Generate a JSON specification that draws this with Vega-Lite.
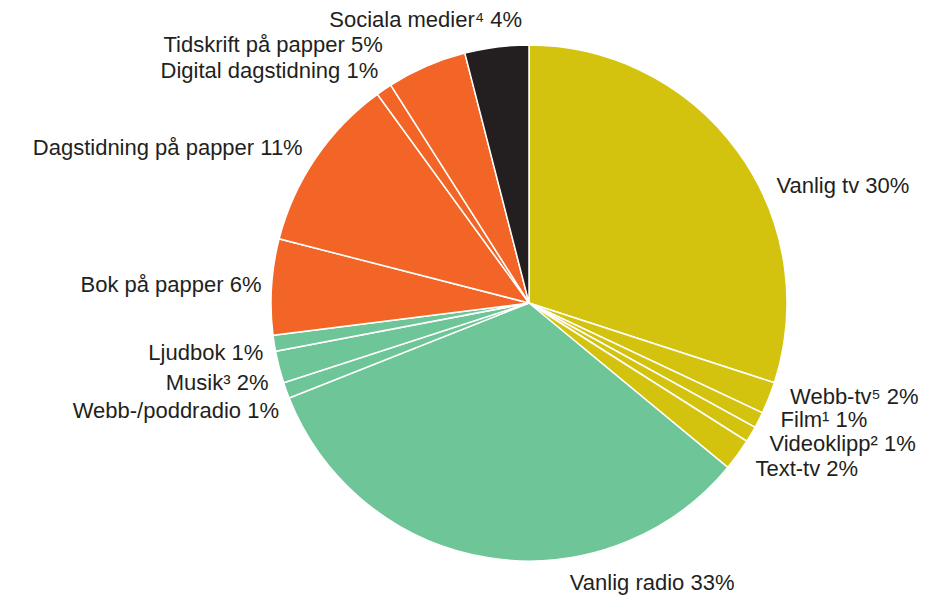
{
  "$schema": "https://vega.github.io/schema/vega-lite/v6.json",
  "autosize": "none",
  "width": 516,
  "height": 516,
  "padding": {"left": 271, "top": 45, "right": 138, "bottom": 34},
  "background": "white",
  "config": {"view": {"stroke": null}, "text": {"fontSize": 22, "font": "Liberation Sans", "color": "#231f20", "baseline": "middle", "radius": 270}},
  "data": {
    "values": [
      {"n": 1, "medium": "Vanlig tv", "label": "Vanlig tv 30%", "share": 30, "group": "tv"},
      {"n": 2, "medium": "Webb-tv", "label": "Webb-tv⁵ 2%", "share": 2, "group": "tv"},
      {"n": 3, "medium": "Film", "label": "Film¹ 1%", "share": 1, "group": "tv"},
      {"n": 4, "medium": "Videoklipp", "label": "Videoklipp² 1%", "share": 1, "group": "tv"},
      {"n": 5, "medium": "Text-tv", "label": "Text-tv 2%", "share": 2, "group": "tv"},
      {"n": 6, "medium": "Vanlig radio", "label": "Vanlig radio 33%", "share": 33, "group": "ljud"},
      {"n": 7, "medium": "Webb-/poddradio", "label": "Webb-/poddradio 1%", "share": 1, "group": "ljud"},
      {"n": 8, "medium": "Musik", "label": "Musik³ 2%", "share": 2, "group": "ljud"},
      {"n": 9, "medium": "Ljudbok", "label": "Ljudbok 1%", "share": 1, "group": "ljud"},
      {"n": 10, "medium": "Bok på papper", "label": "Bok på papper 6%", "share": 6, "group": "text"},
      {"n": 11, "medium": "Dagstidning på papper", "label": "Dagstidning på papper 11%", "share": 11, "group": "text"},
      {"n": 12, "medium": "Digital dagstidning", "label": "Digital dagstidning 1%", "share": 1, "group": "text"},
      {"n": 13, "medium": "Tidskrift på papper", "label": "Tidskrift på papper 5%", "share": 5, "group": "text"},
      {"n": 14, "medium": "Sociala medier", "label": "Sociala medier⁴ 4%", "share": 4, "group": "sociala"}
    ]
  },
  "encoding": {
    "theta": {"field": "share", "type": "quantitative", "stack": true},
    "order": {"field": "n", "type": "quantitative"}
  },
  "layer": [
    {
      "mark": {"type": "arc", "radius": 258, "stroke": "white", "strokeWidth": 1.5},
      "encoding": {
        "color": {
          "field": "group", "type": "nominal", "legend": null,
          "scale": {"domain": ["tv", "ljud", "text", "sociala"], "range": ["#d3c30e", "#6ec597", "#f26526", "#231f20"]}
        }
      }
    },
    {"mark": {"type": "text", "align": "left", "dx": 29, "dy": 42},
     "encoding": {"text": {"condition": {"test": "datum.medium === 'Vanlig tv'", "field": "label"}, "value": ""}}},
    {"mark": {"type": "text", "align": "left", "dx": 10, "dy": -5},
     "encoding": {"text": {"condition": {"test": "datum.medium === 'Webb-tv'", "field": "label"}, "value": ""}}},
    {"mark": {"type": "text", "align": "left", "dx": 11, "dy": -6},
     "encoding": {"text": {"condition": {"test": "datum.medium === 'Film'", "field": "label"}, "value": ""}}},
    {"mark": {"type": "text", "align": "left", "dx": 8, "dy": 4},
     "encoding": {"text": {"condition": {"test": "datum.medium === 'Videoklipp'", "field": "label"}, "value": ""}}},
    {"mark": {"type": "text", "align": "left", "dx": 8, "dy": 7},
     "encoding": {"text": {"condition": {"test": "datum.medium === 'Text-tv'", "field": "label"}, "value": ""}}},
    {"mark": {"type": "text", "align": "left", "dx": 83, "dy": 13},
     "encoding": {"text": {"condition": {"test": "datum.medium === 'Vanlig radio'", "field": "label"}, "value": ""}}},
    {"mark": {"type": "text", "align": "right", "dx": 4, "dy": 17},
     "encoding": {"text": {"condition": {"test": "datum.medium === 'Webb-/poddradio'", "field": "label"}, "value": ""}}},
    {"mark": {"type": "text", "align": "right", "dx": 1, "dy": 13},
     "encoding": {"text": {"condition": {"test": "datum.medium === 'Musik'", "field": "label"}, "value": ""}}},
    {"mark": {"type": "text", "align": "right", "dx": 1, "dy": 8},
     "encoding": {"text": {"condition": {"test": "datum.medium === 'Ljudbok'", "field": "label"}, "value": ""}}},
    {"mark": {"type": "text", "align": "right", "dx": 2, "dy": -1},
     "encoding": {"text": {"condition": {"test": "datum.medium === 'Bok på papper'", "field": "label"}, "value": ""}}},
    {"mark": {"type": "text", "align": "right", "dx": -3, "dy": -3},
     "encoding": {"text": {"condition": {"test": "datum.medium === 'Dagstidning på papper'", "field": "label"}, "value": ""}}},
    {"mark": {"type": "text", "align": "right", "dx": 1, "dy": -9},
     "encoding": {"text": {"condition": {"test": "datum.medium === 'Digital dagstidning'", "field": "label"}, "value": ""}}},
    {"mark": {"type": "text", "align": "right", "dx": -39, "dy": -10},
     "encoding": {"text": {"condition": {"test": "datum.medium === 'Tidskrift på papper'", "field": "label"}, "value": ""}}},
    {"mark": {"type": "text", "align": "right", "dx": 27, "dy": -15},
     "encoding": {"text": {"condition": {"test": "datum.medium === 'Sociala medier'", "field": "label"}, "value": ""}}}
  ]
}
